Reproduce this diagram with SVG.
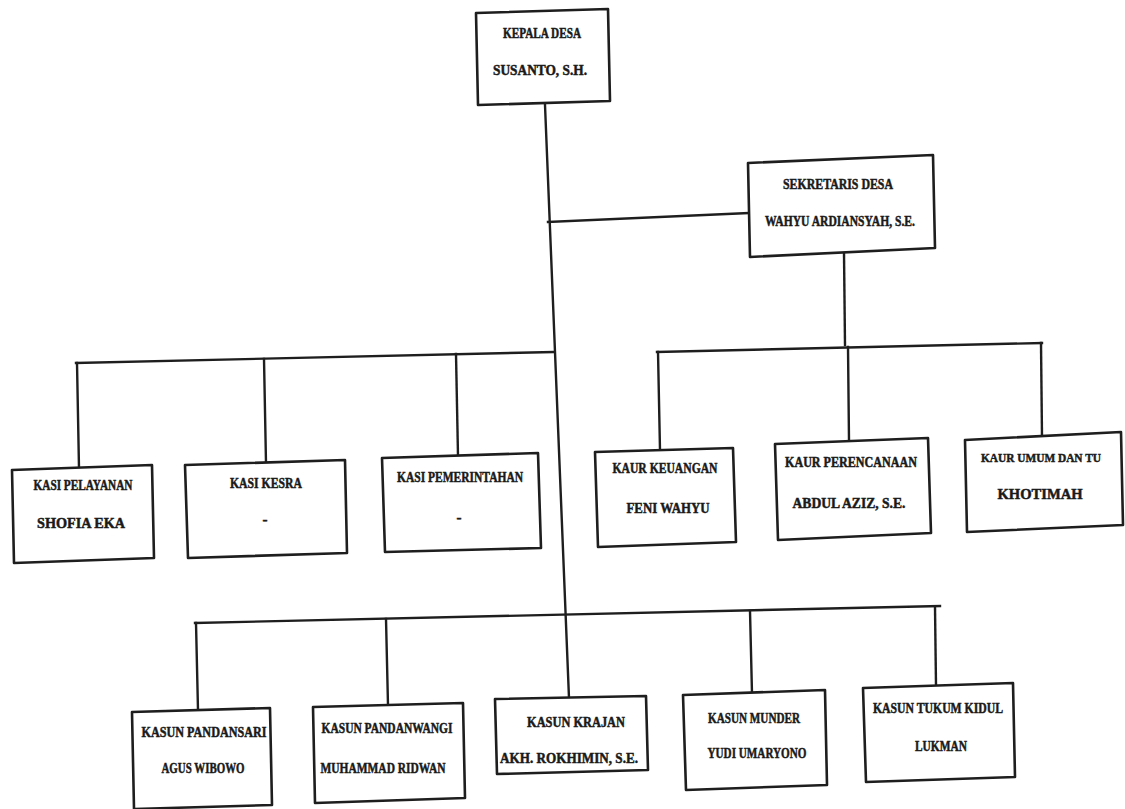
<svg xmlns="http://www.w3.org/2000/svg" width="1125" height="809" viewBox="0 0 1125 809">
<style>
.box{fill:#fff;stroke:#1e1e1e;stroke-width:2.6;stroke-linejoin:round}
.ln{fill:none;stroke:#1e1e1e;stroke-width:2.4;stroke-linecap:square}
text{font-family:"Liberation Serif","Times New Roman",serif;font-weight:bold;font-size:15px;fill:#1a1a1a;stroke:#1a1a1a;stroke-width:0.5;text-anchor:middle}
</style>
<rect width="1125" height="809" fill="#fff"/>
<g id="connectors">
<polyline class="ln" points="545,105 569,698"/>
<polyline class="ln" points="548,222 748,213"/>
<polyline class="ln" points="844,253 845,345"/>
<polyline class="ln" points="657,352 1042,343"/>
<polyline class="ln" points="658,352 660,450"/>
<polyline class="ln" points="848,347 849,440"/>
<polyline class="ln" points="1041,343 1042,436"/>
<polyline class="ln" points="76,363 553,352"/>
<polyline class="ln" points="77,363 79,468"/>
<polyline class="ln" points="264,359 266,463"/>
<polyline class="ln" points="456,354 458,456"/>
<polyline class="ln" points="195,623 940,606"/>
<polyline class="ln" points="196,623 198,710"/>
<polyline class="ln" points="386,619 388,705"/>
<polyline class="ln" points="750,611 752,693"/>
<polyline class="ln" points="935,607 936,686"/>
</g>
<g id="kepala-desa">
<polygon class="box" points="476,13 608,9 610,101 478,105"/>
<text x="542" y="38" textLength="78" lengthAdjust="spacingAndGlyphs">KEPALA DESA</text>
<text x="540" y="75" textLength="94" lengthAdjust="spacingAndGlyphs">SUSANTO, S.H.</text>
</g>
<g id="sekretaris-desa">
<polygon class="box" points="748,163 933,155 935,248 750,257"/>
<text x="838" y="189" textLength="110" lengthAdjust="spacingAndGlyphs">SEKRETARIS DESA</text>
<text x="840" y="226" textLength="150" lengthAdjust="spacingAndGlyphs">WAHYU ARDIANSYAH, S.E.</text>
</g>
<g id="kasi-pelayanan">
<polygon class="box" points="12,470 152,465 154,558 14,563"/>
<text x="83" y="490" textLength="99" lengthAdjust="spacingAndGlyphs">KASI PELAYANAN</text>
<text x="81" y="528" textLength="88" lengthAdjust="spacingAndGlyphs">SHOFIA EKA</text>
</g>
<g id="kasi-kesra">
<polygon class="box" points="185,465 345,460 347,553 188,558"/>
<text x="266" y="488" textLength="72" lengthAdjust="spacingAndGlyphs">KASI KESRA</text>
<text x="265" y="524">-</text>
</g>
<g id="kasi-pemerintahan">
<polygon class="box" points="382,458 538,453 541,548 385,552"/>
<text x="460" y="482" textLength="126" lengthAdjust="spacingAndGlyphs">KASI PEMERINTAHAN</text>
<text x="459" y="522">-</text>
</g>
<g id="kaur-keuangan">
<polygon class="box" points="595,452 733,448 736,542 598,547"/>
<text x="665" y="473" textLength="105" lengthAdjust="spacingAndGlyphs">KAUR KEUANGAN</text>
<text x="668" y="513" textLength="83" lengthAdjust="spacingAndGlyphs">FENI WAHYU</text>
</g>
<g id="kaur-perencanaan">
<polygon class="box" points="775,444 928,438 931,533 778,540"/>
<text x="851" y="467" textLength="132" lengthAdjust="spacingAndGlyphs">KAUR PERENCANAAN</text>
<text x="849" y="508" textLength="113" lengthAdjust="spacingAndGlyphs">ABDUL AZIZ, S.E.</text>
</g>
<g id="kaur-umum">
<polygon class="box" points="965,440 1121,432 1123,525 967,532"/>
<text x="1041" y="462" style="font-size:13.5px" textLength="120" lengthAdjust="spacingAndGlyphs">KAUR UMUM DAN TU</text>
<text x="1040" y="499" textLength="85" lengthAdjust="spacingAndGlyphs">KHOTIMAH</text>
</g>
<g id="kasun-pandansari">
<polygon class="box" points="132,712 270,708 272,805 134,809"/>
<text x="204" y="737" textLength="125" lengthAdjust="spacingAndGlyphs">KASUN PANDANSARI</text>
<text x="203" y="773" textLength="83" lengthAdjust="spacingAndGlyphs">AGUS WIBOWO</text>
</g>
<g id="kasun-pandanwangi">
<polygon class="box" points="313,707 463,703 465,798 315,803"/>
<text x="387" y="733" textLength="131" lengthAdjust="spacingAndGlyphs">KASUN PANDANWANGI</text>
<text x="383" y="773" textLength="125" lengthAdjust="spacingAndGlyphs">MUHAMMAD RIDWAN</text>
</g>
<g id="kasun-krajan">
<polygon class="box" points="495,699 646,696 648,770 497,774"/>
<text x="576" y="727" textLength="98" lengthAdjust="spacingAndGlyphs">KASUN KRAJAN</text>
<text x="569" y="763" textLength="138" lengthAdjust="spacingAndGlyphs">AKH. ROKHIMIN, S.E.</text>
</g>
<g id="kasun-munder">
<polygon class="box" points="683,695 825,690 827,785 686,790"/>
<text x="754" y="723" textLength="92" lengthAdjust="spacingAndGlyphs">KASUN MUNDER</text>
<text x="757" y="758" textLength="99" lengthAdjust="spacingAndGlyphs">YUDI UMARYONO</text>
</g>
<g id="kasun-tukum-kidul">
<polygon class="box" points="863,688 1013,683 1015,777 866,782"/>
<text x="938" y="713" textLength="130" lengthAdjust="spacingAndGlyphs">KASUN TUKUM KIDUL</text>
<text x="941" y="751" textLength="52" lengthAdjust="spacingAndGlyphs">LUKMAN</text>
</g>
</svg>
